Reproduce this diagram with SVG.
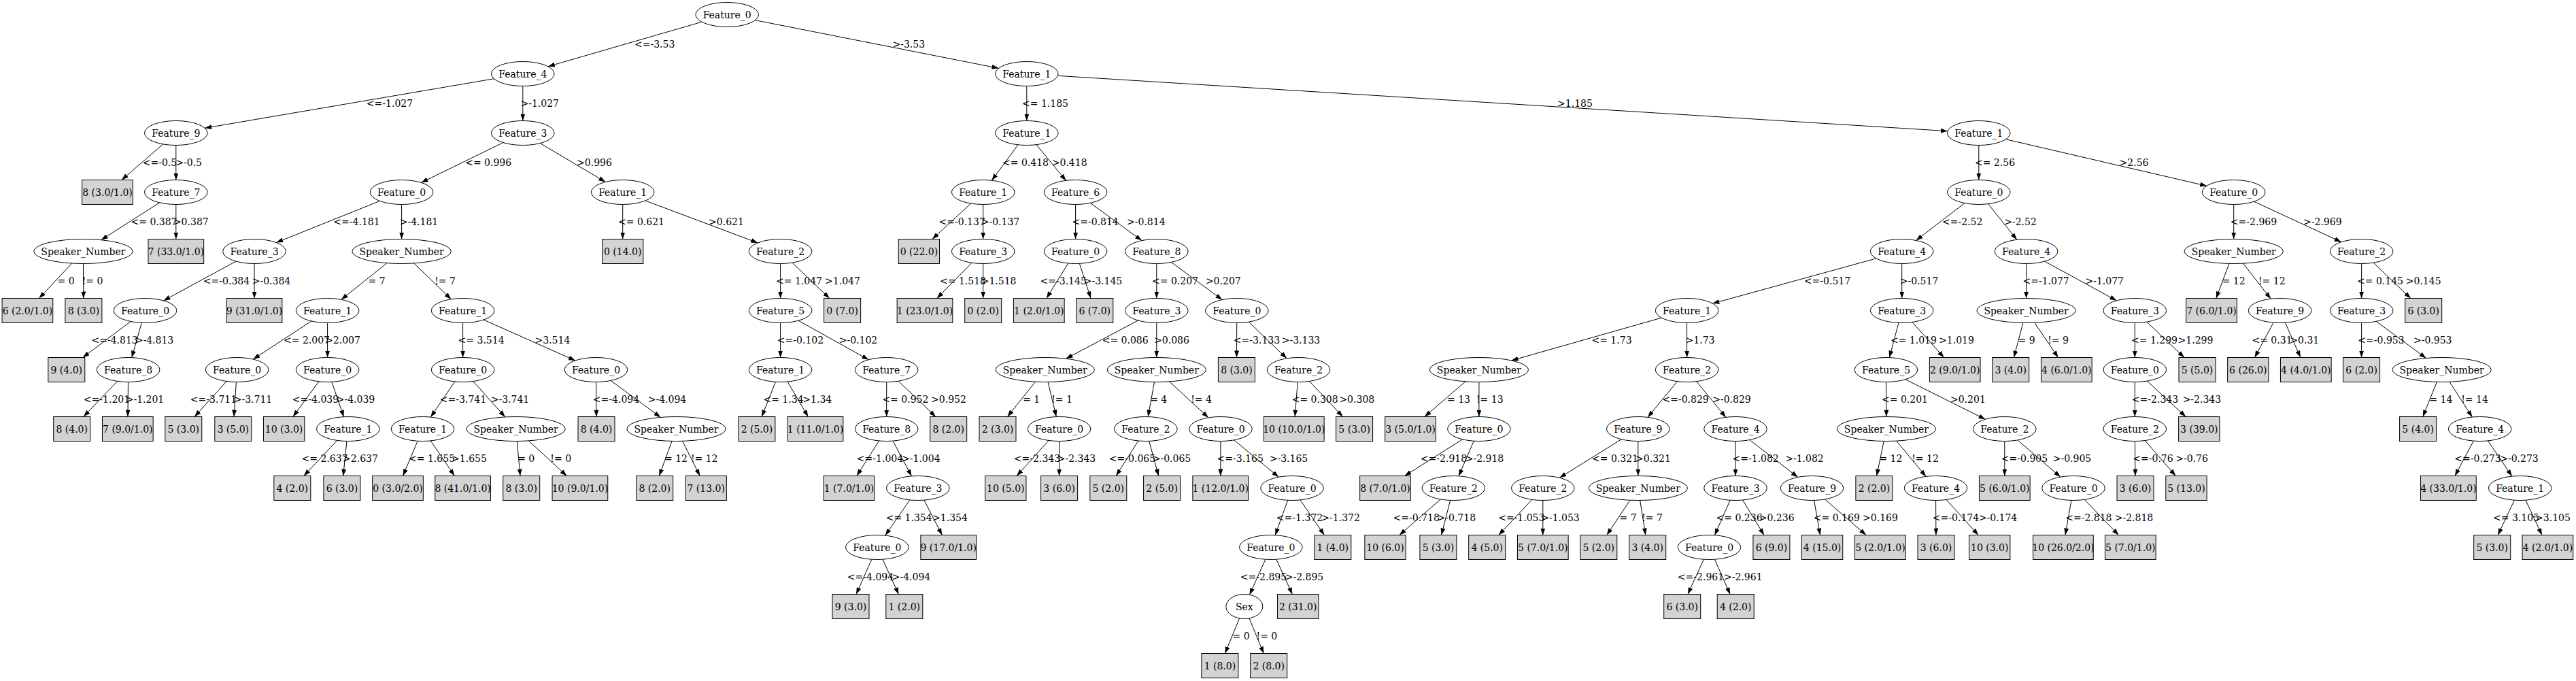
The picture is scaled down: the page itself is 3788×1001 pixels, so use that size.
<svg xmlns="http://www.w3.org/2000/svg" width="3788" height="1001" viewBox="0 0 3788 1001">
<style>
text{font-family:"DejaVu Serif","Liberation Serif",serif;font-size:14px;text-anchor:middle;fill:#000}
#edges line{stroke:#000;stroke-width:1;marker-end:url(#arr)}
.n ellipse{fill:#fff;stroke:#000;stroke-width:1}
.l rect{fill:#d3d3d3;stroke:#000;stroke-width:1}
</style>
<defs>
<marker id="arr" markerUnits="userSpaceOnUse" markerWidth="10" markerHeight="7" refX="10" refY="3.5" orient="auto"><path d="M0,0L10,3.5L0,7z" fill="#000"/></marker>
</defs>
<rect width="3788" height="1001" fill="#fff"/>
<g id="edges">
<line x1="1069.2" y1="21.5" x2="805.9" y2="97.7"/>
<line x1="1069.2" y1="21.5" x2="1468.5" y2="100.3"/>
<line x1="768.8" y1="108.5" x2="301.2" y2="188.3"/>
<line x1="768.8" y1="108.5" x2="768.8" y2="177.5"/>
<line x1="258.8" y1="195.5" x2="178.9" y2="264.5"/>
<line x1="258.8" y1="195.5" x2="258.8" y2="264.5"/>
<line x1="258.8" y1="282.5" x2="148.7" y2="352.7"/>
<line x1="258.8" y1="282.5" x2="258.8" y2="351.5"/>
<line x1="122.4" y1="369.5" x2="57.4" y2="438.5"/>
<line x1="122.4" y1="369.5" x2="122.8" y2="438.5"/>
<line x1="768.8" y1="195.5" x2="619.4" y2="268.4"/>
<line x1="768.8" y1="195.5" x2="890.3" y2="267.4"/>
<line x1="590.6" y1="282.5" x2="406.2" y2="356.6"/>
<line x1="590.6" y1="282.5" x2="590.6" y2="351.5"/>
<line x1="374" y1="369.5" x2="240.5" y2="441.9"/>
<line x1="374" y1="369.5" x2="374" y2="438.5"/>
<line x1="213.5" y1="456.5" x2="121.7" y2="525.5"/>
<line x1="213.5" y1="456.5" x2="193.7" y2="525.6"/>
<line x1="188.6" y1="543.5" x2="122.9" y2="612.5"/>
<line x1="188.6" y1="543.5" x2="188" y2="612.5"/>
<line x1="590.6" y1="369.5" x2="501.9" y2="440.3"/>
<line x1="590.6" y1="369.5" x2="663.3" y2="439.8"/>
<line x1="481.6" y1="456.5" x2="372.3" y2="528"/>
<line x1="481.6" y1="456.5" x2="481.6" y2="525.5"/>
<line x1="348.6" y1="543.5" x2="286.1" y2="612.5"/>
<line x1="348.6" y1="543.5" x2="344" y2="612.5"/>
<line x1="481.6" y1="543.5" x2="430.8" y2="612.5"/>
<line x1="481.6" y1="543.5" x2="505.6" y2="612.7"/>
<line x1="511.8" y1="630.5" x2="446.8" y2="699.5"/>
<line x1="511.8" y1="630.5" x2="504.7" y2="699.5"/>
<line x1="680.6" y1="456.5" x2="680.6" y2="525.5"/>
<line x1="680.6" y1="456.5" x2="846" y2="530"/>
<line x1="680.6" y1="543.5" x2="633.3" y2="613.1"/>
<line x1="680.6" y1="543.5" x2="742.8" y2="612.9"/>
<line x1="621.5" y1="630.5" x2="592.6" y2="699.5"/>
<line x1="621.5" y1="630.5" x2="668.4" y2="699.5"/>
<line x1="758.6" y1="630.5" x2="765" y2="699.5"/>
<line x1="758.6" y1="630.5" x2="833.4" y2="699.5"/>
<line x1="876.5" y1="543.5" x2="876.9" y2="612.5"/>
<line x1="876.5" y1="543.5" x2="971.4" y2="613.4"/>
<line x1="994.5" y1="630.5" x2="969.3" y2="699.5"/>
<line x1="994.5" y1="630.5" x2="1029.2" y2="699.5"/>
<line x1="915.7" y1="282.5" x2="915.7" y2="351.5"/>
<line x1="915.7" y1="282.5" x2="1114.3" y2="357"/>
<line x1="1147.6" y1="369.5" x2="1147.6" y2="438.5"/>
<line x1="1147.6" y1="369.5" x2="1219.8" y2="438.5"/>
<line x1="1147.6" y1="456.5" x2="1147.6" y2="525.5"/>
<line x1="1147.6" y1="456.5" x2="1277.2" y2="528.7"/>
<line x1="1147.6" y1="543.5" x2="1120.1" y2="612.5"/>
<line x1="1147.6" y1="543.5" x2="1188.4" y2="612.5"/>
<line x1="1303.7" y1="543.5" x2="1303.7" y2="612.5"/>
<line x1="1303.7" y1="543.5" x2="1375.9" y2="612.5"/>
<line x1="1303.7" y1="630.5" x2="1259.9" y2="699.5"/>
<line x1="1303.7" y1="630.5" x2="1340.5" y2="699.9"/>
<line x1="1349.8" y1="717.5" x2="1301.8" y2="787.1"/>
<line x1="1349.8" y1="717.5" x2="1385.4" y2="786.5"/>
<line x1="1289.8" y1="804.5" x2="1259" y2="873.5"/>
<line x1="1289.8" y1="804.5" x2="1321.5" y2="873.5"/>
<line x1="1509.8" y1="108.5" x2="1509.8" y2="177.5"/>
<line x1="1509.8" y1="108.5" x2="2864.1" y2="192.7"/>
<line x1="1509.8" y1="195.5" x2="1458.4" y2="265.2"/>
<line x1="1509.8" y1="195.5" x2="1567.5" y2="265.4"/>
<line x1="1445.7" y1="282.5" x2="1370.9" y2="351.5"/>
<line x1="1445.7" y1="282.5" x2="1445.7" y2="351.5"/>
<line x1="1445.7" y1="369.5" x2="1377.7" y2="438.5"/>
<line x1="1445.7" y1="369.5" x2="1445.7" y2="438.5"/>
<line x1="1581.6" y1="282.5" x2="1581.6" y2="351.5"/>
<line x1="1581.6" y1="282.5" x2="1679" y2="353.6"/>
<line x1="1581.6" y1="369.5" x2="1538.9" y2="438.5"/>
<line x1="1581.6" y1="369.5" x2="1604" y2="438.5"/>
<line x1="1700.8" y1="369.5" x2="1700.8" y2="438.5"/>
<line x1="1700.8" y1="369.5" x2="1797.2" y2="440.6"/>
<line x1="1700.8" y1="456.5" x2="1567.5" y2="527.2"/>
<line x1="1700.8" y1="456.5" x2="1700.8" y2="525.5"/>
<line x1="1536.7" y1="543.5" x2="1481.4" y2="612.5"/>
<line x1="1536.7" y1="543.5" x2="1553.3" y2="612.6"/>
<line x1="1557.6" y1="630.5" x2="1495.1" y2="699.5"/>
<line x1="1557.6" y1="630.5" x2="1557.6" y2="699.5"/>
<line x1="1700.8" y1="543.5" x2="1688.2" y2="612.5"/>
<line x1="1700.8" y1="543.5" x2="1777" y2="613.9"/>
<line x1="1684.9" y1="630.5" x2="1641.2" y2="699.5"/>
<line x1="1684.9" y1="630.5" x2="1703.7" y2="699.5"/>
<line x1="1795" y1="630.5" x2="1794.8" y2="699.5"/>
<line x1="1795" y1="630.5" x2="1880.3" y2="701.2"/>
<line x1="1900" y1="717.5" x2="1875.2" y2="786.7"/>
<line x1="1900" y1="717.5" x2="1947.4" y2="786.5"/>
<line x1="1868.8" y1="804.5" x2="1837.5" y2="874.3"/>
<line x1="1868.8" y1="804.5" x2="1900.4" y2="873.5"/>
<line x1="1829.8" y1="891.5" x2="1801.3" y2="960.5"/>
<line x1="1829.8" y1="891.5" x2="1858.3" y2="960.5"/>
<line x1="1818.8" y1="456.5" x2="1818.5" y2="525.5"/>
<line x1="1818.8" y1="456.5" x2="1892.2" y2="526.8"/>
<line x1="1909.6" y1="543.5" x2="1904.2" y2="612.5"/>
<line x1="1909.6" y1="543.5" x2="1974.6" y2="612.5"/>
<line x1="2909.8" y1="195.5" x2="2909.8" y2="264.5"/>
<line x1="2909.8" y1="195.5" x2="3245" y2="273.3"/>
<line x1="2909.8" y1="282.5" x2="2817.6" y2="353.4"/>
<line x1="2909.8" y1="282.5" x2="2965.8" y2="352.3"/>
<line x1="2796.7" y1="369.5" x2="2518.4" y2="446.1"/>
<line x1="2796.7" y1="369.5" x2="2796.7" y2="438.5"/>
<line x1="2480.6" y1="456.5" x2="2222.6" y2="529.9"/>
<line x1="2480.6" y1="456.5" x2="2480.6" y2="525.5"/>
<line x1="2174.9" y1="543.5" x2="2094.9" y2="612.5"/>
<line x1="2174.9" y1="543.5" x2="2174.9" y2="612.5"/>
<line x1="2174.9" y1="630.5" x2="2065.5" y2="699.5"/>
<line x1="2174.9" y1="630.5" x2="2145" y2="699.8"/>
<line x1="2137.3" y1="717.5" x2="2057.8" y2="786.5"/>
<line x1="2137.3" y1="717.5" x2="2119.5" y2="786.5"/>
<line x1="2480.6" y1="543.5" x2="2422.9" y2="613.4"/>
<line x1="2480.6" y1="543.5" x2="2537.9" y2="613.4"/>
<line x1="2408.8" y1="630.5" x2="2293.4" y2="702.2"/>
<line x1="2408.8" y1="630.5" x2="2408.8" y2="699.5"/>
<line x1="2268.8" y1="717.5" x2="2203.7" y2="786.5"/>
<line x1="2268.8" y1="717.5" x2="2268.8" y2="786.5"/>
<line x1="2408.8" y1="717.5" x2="2362.8" y2="786.5"/>
<line x1="2408.8" y1="717.5" x2="2419.8" y2="786.5"/>
<line x1="2552" y1="630.5" x2="2552" y2="699.5"/>
<line x1="2552" y1="630.5" x2="2643.7" y2="701.4"/>
<line x1="2552" y1="717.5" x2="2521.4" y2="786.8"/>
<line x1="2552" y1="717.5" x2="2594" y2="786.5"/>
<line x1="2513.5" y1="804.5" x2="2481.9" y2="873.5"/>
<line x1="2513.5" y1="804.5" x2="2544.2" y2="873.5"/>
<line x1="2664.5" y1="717.5" x2="2676.5" y2="786.5"/>
<line x1="2664.5" y1="717.5" x2="2744.1" y2="786.5"/>
<line x1="2796.7" y1="456.5" x2="2778.3" y2="525.6"/>
<line x1="2796.7" y1="456.5" x2="2858.6" y2="525.5"/>
<line x1="2773.5" y1="543.5" x2="2773.9" y2="612.5"/>
<line x1="2773.5" y1="543.5" x2="2919.3" y2="616.3"/>
<line x1="2773.9" y1="630.5" x2="2759.6" y2="699.5"/>
<line x1="2773.9" y1="630.5" x2="2832.2" y2="700.4"/>
<line x1="2846.5" y1="717.5" x2="2846.9" y2="786.5"/>
<line x1="2846.5" y1="717.5" x2="2909.3" y2="786.5"/>
<line x1="2947.8" y1="630.5" x2="2947.8" y2="699.5"/>
<line x1="2947.8" y1="630.5" x2="3029.9" y2="701.1"/>
<line x1="3049" y1="717.5" x2="3037" y2="786.5"/>
<line x1="3049" y1="717.5" x2="3115.5" y2="786.5"/>
<line x1="2979.6" y1="369.5" x2="2979.6" y2="438.5"/>
<line x1="2979.6" y1="369.5" x2="3112.4" y2="441.8"/>
<line x1="2979.6" y1="456.5" x2="2961.4" y2="525.5"/>
<line x1="2979.6" y1="456.5" x2="3026.6" y2="525.5"/>
<line x1="3139.3" y1="456.5" x2="3139.3" y2="525.5"/>
<line x1="3139.3" y1="456.5" x2="3212" y2="525.5"/>
<line x1="3139.3" y1="543.5" x2="3139.3" y2="612.5"/>
<line x1="3139.3" y1="543.5" x2="3214.2" y2="612.5"/>
<line x1="3139.3" y1="630.5" x2="3139.9" y2="699.5"/>
<line x1="3139.3" y1="630.5" x2="3199.3" y2="699.5"/>
<line x1="3284.7" y1="282.5" x2="3284.7" y2="351.5"/>
<line x1="3284.7" y1="282.5" x2="3442.8" y2="355.7"/>
<line x1="3284.7" y1="369.5" x2="3258.8" y2="438.5"/>
<line x1="3284.7" y1="369.5" x2="3339.2" y2="439.3"/>
<line x1="3352.6" y1="456.5" x2="3315.5" y2="525.5"/>
<line x1="3352.6" y1="456.5" x2="3382.9" y2="525.5"/>
<line x1="3472.6" y1="369.5" x2="3472.6" y2="438.5"/>
<line x1="3472.6" y1="369.5" x2="3544.9" y2="438.5"/>
<line x1="3472.6" y1="456.5" x2="3472.6" y2="525.5"/>
<line x1="3472.6" y1="456.5" x2="3567.5" y2="526.4"/>
<line x1="3590.6" y1="543.5" x2="3562.8" y2="612.5"/>
<line x1="3590.6" y1="543.5" x2="3635.4" y2="613"/>
<line x1="3646.7" y1="630.5" x2="3610" y2="699.5"/>
<line x1="3646.7" y1="630.5" x2="3693.9" y2="700.1"/>
<line x1="3705.7" y1="717.5" x2="3673.2" y2="786.5"/>
<line x1="3705.7" y1="717.5" x2="3738" y2="786.5"/>
</g>
<g id="edge-labels">
<text x="962.7" y="70">&lt;=-3.53</text><text x="1336.3" y="70">&gt;-3.53</text>
<text x="573" y="157">&lt;=-1.027</text><text x="793.7" y="157">&gt;-1.027</text><text x="1537" y="157">&lt;= 1.185</text><text x="2316" y="157">&gt;1.185</text>
<text x="235" y="244">&lt;=-0.5</text><text x="277.6" y="244">&gt;-0.5</text><text x="718.2" y="244">&lt;= 0.996</text><text x="874" y="244">&gt;0.996</text><text x="1508" y="244">&lt;= 0.418</text><text x="1572.7" y="244">&gt;0.418</text><text x="2933.5" y="244">&lt;= 2.56</text><text x="3138" y="244">&gt;2.56</text>
<text x="226.5" y="331">&lt;= 0.387</text><text x="280.8" y="331">&gt;0.387</text><text x="524.5" y="331">&lt;=-4.181</text><text x="616" y="331">&gt;-4.181</text><text x="943" y="331">&lt;= 0.621</text><text x="1068" y="331">&gt;0.621</text><text x="1414.7" y="331">&lt;=-0.137</text><text x="1471" y="331">&gt;-0.137</text><text x="1610.6" y="331">&lt;=-0.814</text><text x="1685.3" y="331">&gt;-0.814</text><text x="2885.7" y="331">&lt;=-2.52</text><text x="2971" y="331">&gt;-2.52</text><text x="3314" y="331">&lt;=-2.969</text><text x="3415.3" y="331">&gt;-2.969</text>
<text x="97" y="418">= 0</text><text x="136" y="418">!= 0</text><text x="333" y="418">&lt;=-0.384</text><text x="399" y="418">&gt;-0.384</text><text x="554" y="418">= 7</text><text x="654.5" y="418">!= 7</text><text x="1175" y="418">&lt;= 1.047</text><text x="1239" y="418">&gt;1.047</text><text x="1416" y="418">&lt;= 1.518</text><text x="1468.6" y="418">&gt;1.518</text><text x="1563.7" y="418">&lt;=-3.145</text><text x="1622" y="418">&gt;-3.145</text><text x="1728" y="418">&lt;= 0.207</text><text x="1798.8" y="418">&gt;0.207</text><text x="2687" y="418">&lt;=-0.517</text><text x="2822" y="418">&gt;-0.517</text><text x="3008.6" y="418">&lt;=-1.077</text><text x="3094.7" y="418">&gt;-1.077</text><text x="3284.7" y="418">= 12</text><text x="3340.8" y="418">!= 12</text><text x="3500" y="418">&lt;= 0.145</text><text x="3563.7" y="418">&gt;0.145</text>
<text x="168.6" y="505">&lt;=-4.813</text><text x="227" y="505">&gt;-4.813</text><text x="451" y="505">&lt;= 2.007</text><text x="504" y="505">&gt;2.007</text><text x="707.6" y="505">&lt;= 3.514</text><text x="812.4" y="505">&gt;3.514</text><text x="1177" y="505">&lt;=-0.102</text><text x="1262" y="505">&gt;-0.102</text><text x="1654.7" y="505">&lt;= 0.086</text><text x="1723" y="505">&gt;0.086</text><text x="1848" y="505">&lt;=-3.133</text><text x="1913" y="505">&gt;-3.133</text><text x="2370" y="505">&lt;= 1.73</text><text x="2500" y="505">&gt;1.73</text><text x="2813.9" y="505">&lt;= 1.019</text><text x="2877" y="505">&gt;1.019</text><text x="2980" y="505">= 9</text><text x="3026.5" y="505">!= 9</text><text x="3168" y="505">&lt;= 1.299</text><text x="3228.5" y="505">&gt;1.299</text><text x="3341" y="505">&lt;= 0.31</text><text x="3388.8" y="505">&gt;0.31</text><text x="3501.5" y="505">&lt;=-0.953</text><text x="3577.2" y="505">&gt;-0.953</text>
<text x="157" y="592">&lt;=-1.201</text><text x="213" y="592">&gt;-1.201</text><text x="314" y="592">&lt;=-3.711</text><text x="372" y="592">&gt;-3.711</text><text x="464" y="592">&lt;=-4.039</text><text x="523" y="592">&gt;-4.039</text><text x="681" y="592">&lt;=-3.741</text><text x="750" y="592">&gt;-3.741</text><text x="906" y="592">&lt;=-4.094</text><text x="981" y="592">&gt;-4.094</text><text x="1152" y="592">&lt;= 1.34</text><text x="1201.8" y="592">&gt;1.34</text><text x="1331.4" y="592">&lt;= 0.952</text><text x="1395" y="592">&gt;0.952</text><text x="1516.7" y="592">= 1</text><text x="1561.6" y="592">!= 1</text><text x="1703.7" y="592">= 4</text><text x="1766.5" y="592">!= 4</text><text x="1933.7" y="592">&lt;= 0.308</text><text x="1995.3" y="592">&gt;0.308</text><text x="2145" y="592">= 13</text><text x="2190.8" y="592">!= 13</text><text x="2478.6" y="592">&lt;=-0.829</text><text x="2546.5" y="592">&gt;-0.829</text><text x="2801" y="592">&lt;= 0.201</text><text x="2893.9" y="592">&gt;0.201</text><text x="3169" y="592">&lt;=-2.343</text><text x="3237.9" y="592">&gt;-2.343</text><text x="3589.4" y="592">= 14</text><text x="3639" y="592">!= 14</text>
<text x="477.6" y="679">&lt;= 2.637</text><text x="530" y="679">&gt;2.637</text><text x="635" y="679">&lt;= 1.655</text><text x="690" y="679">&gt;1.655</text><text x="773.7" y="679">= 0</text><text x="824.7" y="679">!= 0</text><text x="994" y="679">= 12</text><text x="1035.7" y="679">!= 12</text><text x="1294" y="679">&lt;=-1.004</text><text x="1354.3" y="679">&gt;-1.004</text><text x="1525" y="679">&lt;=-2.343</text><text x="1583" y="679">&gt;-2.343</text><text x="1665" y="679">&lt;=-0.065</text><text x="1723" y="679">&gt;-0.065</text><text x="1823.7" y="679">&lt;=-3.165</text><text x="1895" y="679">&gt;-3.165</text><text x="2123" y="679">&lt;=-2.918</text><text x="2183" y="679">&gt;-2.918</text><text x="2375" y="679">&lt;= 0.321</text><text x="2431" y="679">&gt;0.321</text><text x="2581.6" y="679">&lt;=-1.082</text><text x="2653.5" y="679">&gt;-1.082</text><text x="2780.4" y="679">= 12</text><text x="2831" y="679">!= 12</text><text x="2977" y="679">&lt;=-0.905</text><text x="3047" y="679">&gt;-0.905</text><text x="3166" y="679">&lt;=-0.76</text><text x="3223" y="679">&gt;-0.76</text><text x="3643.5" y="679">&lt;=-0.273</text><text x="3704.5" y="679">&gt;-0.273</text>
<text x="1336.7" y="766">&lt;= 1.354</text><text x="1397" y="766">&gt;1.354</text><text x="1911" y="766">&lt;=-1.372</text><text x="1971.6" y="766">&gt;-1.372</text><text x="2082.7" y="766">&lt;=-0.718</text><text x="2141.8" y="766">&gt;-0.718</text><text x="2237.3" y="766">&lt;=-1.053</text><text x="2294.5" y="766">&gt;-1.053</text><text x="2394" y="766">= 7</text><text x="2429.6" y="766">!= 7</text><text x="2557.6" y="766">&lt;= 0.236</text><text x="2612.7" y="766">&gt;0.236</text><text x="2700.8" y="766">&lt;= 0.169</text><text x="2765" y="766">&gt;0.169</text><text x="2876" y="766">&lt;=-0.174</text><text x="2938" y="766">&gt;-0.174</text><text x="3071.4" y="766">&lt;=-2.818</text><text x="3138" y="766">&gt;-2.818</text><text x="3700" y="766">&lt;= 3.105</text><text x="3754" y="766">&gt;3.105</text>
<text x="1280" y="853">&lt;=-4.094</text><text x="1340" y="853">&gt;-4.094</text><text x="1858" y="853">&lt;=-2.895</text><text x="1918" y="853">&gt;-2.895</text><text x="2501" y="853">&lt;=-2.961</text><text x="2563.3" y="853">&gt;-2.961</text>
<text x="1825" y="940">= 0</text><text x="1862.9" y="940">!= 0</text>
</g>
<g id="nodes">
<g id="n0" class="n"><ellipse cx="1069.2" cy="21.5" rx="46.3" ry="18"/><text x="1069.2" y="26.5">Feature_0</text></g>
<g id="n1" class="n"><ellipse cx="768.8" cy="108.5" rx="46.3" ry="18"/><text x="768.8" y="113.5">Feature_4</text></g>
<g id="n2" class="n"><ellipse cx="258.8" cy="195.5" rx="46.3" ry="18"/><text x="258.8" y="200.5">Feature_9</text></g>
<g id="n3" class="n"><ellipse cx="258.8" cy="282.5" rx="46.3" ry="18"/><text x="258.8" y="287.5">Feature_7</text></g>
<g id="n4" class="n"><ellipse cx="122.4" cy="369.5" rx="72.7" ry="18"/><text x="122.4" y="374.5">Speaker_Number</text></g>
<g id="n5" class="n"><ellipse cx="768.8" cy="195.5" rx="46.3" ry="18"/><text x="768.8" y="200.5">Feature_3</text></g>
<g id="n6" class="n"><ellipse cx="590.6" cy="282.5" rx="46.3" ry="18"/><text x="590.6" y="287.5">Feature_0</text></g>
<g id="n7" class="n"><ellipse cx="374" cy="369.5" rx="46.3" ry="18"/><text x="374" y="374.5">Feature_3</text></g>
<g id="n8" class="n"><ellipse cx="213.5" cy="456.5" rx="46.3" ry="18"/><text x="213.5" y="461.5">Feature_0</text></g>
<g id="n9" class="n"><ellipse cx="188.6" cy="543.5" rx="46.3" ry="18"/><text x="188.6" y="548.5">Feature_8</text></g>
<g id="n10" class="n"><ellipse cx="590.6" cy="369.5" rx="72.7" ry="18"/><text x="590.6" y="374.5">Speaker_Number</text></g>
<g id="n11" class="n"><ellipse cx="481.6" cy="456.5" rx="46.3" ry="18"/><text x="481.6" y="461.5">Feature_1</text></g>
<g id="n12" class="n"><ellipse cx="348.6" cy="543.5" rx="46.3" ry="18"/><text x="348.6" y="548.5">Feature_0</text></g>
<g id="n13" class="n"><ellipse cx="481.6" cy="543.5" rx="46.3" ry="18"/><text x="481.6" y="548.5">Feature_0</text></g>
<g id="n14" class="n"><ellipse cx="511.8" cy="630.5" rx="46.3" ry="18"/><text x="511.8" y="635.5">Feature_1</text></g>
<g id="n15" class="n"><ellipse cx="680.6" cy="456.5" rx="46.3" ry="18"/><text x="680.6" y="461.5">Feature_1</text></g>
<g id="n16" class="n"><ellipse cx="680.6" cy="543.5" rx="46.3" ry="18"/><text x="680.6" y="548.5">Feature_0</text></g>
<g id="n17" class="n"><ellipse cx="621.5" cy="630.5" rx="46.3" ry="18"/><text x="621.5" y="635.5">Feature_1</text></g>
<g id="n18" class="n"><ellipse cx="758.6" cy="630.5" rx="72.7" ry="18"/><text x="758.6" y="635.5">Speaker_Number</text></g>
<g id="n19" class="n"><ellipse cx="876.5" cy="543.5" rx="46.3" ry="18"/><text x="876.5" y="548.5">Feature_0</text></g>
<g id="n20" class="n"><ellipse cx="994.5" cy="630.5" rx="72.7" ry="18"/><text x="994.5" y="635.5">Speaker_Number</text></g>
<g id="n21" class="n"><ellipse cx="915.7" cy="282.5" rx="46.3" ry="18"/><text x="915.7" y="287.5">Feature_1</text></g>
<g id="n22" class="n"><ellipse cx="1147.6" cy="369.5" rx="46.3" ry="18"/><text x="1147.6" y="374.5">Feature_2</text></g>
<g id="n23" class="n"><ellipse cx="1147.6" cy="456.5" rx="46.3" ry="18"/><text x="1147.6" y="461.5">Feature_5</text></g>
<g id="n24" class="n"><ellipse cx="1147.6" cy="543.5" rx="46.3" ry="18"/><text x="1147.6" y="548.5">Feature_1</text></g>
<g id="n25" class="n"><ellipse cx="1303.7" cy="543.5" rx="46.3" ry="18"/><text x="1303.7" y="548.5">Feature_7</text></g>
<g id="n26" class="n"><ellipse cx="1303.7" cy="630.5" rx="46.3" ry="18"/><text x="1303.7" y="635.5">Feature_8</text></g>
<g id="n27" class="n"><ellipse cx="1349.8" cy="717.5" rx="46.3" ry="18"/><text x="1349.8" y="722.5">Feature_3</text></g>
<g id="n28" class="n"><ellipse cx="1289.8" cy="804.5" rx="46.3" ry="18"/><text x="1289.8" y="809.5">Feature_0</text></g>
<g id="n29" class="n"><ellipse cx="1509.8" cy="108.5" rx="46.3" ry="18"/><text x="1509.8" y="113.5">Feature_1</text></g>
<g id="n30" class="n"><ellipse cx="1509.8" cy="195.5" rx="46.3" ry="18"/><text x="1509.8" y="200.5">Feature_1</text></g>
<g id="n31" class="n"><ellipse cx="1445.7" cy="282.5" rx="46.3" ry="18"/><text x="1445.7" y="287.5">Feature_1</text></g>
<g id="n32" class="n"><ellipse cx="1445.7" cy="369.5" rx="46.3" ry="18"/><text x="1445.7" y="374.5">Feature_3</text></g>
<g id="n33" class="n"><ellipse cx="1581.6" cy="282.5" rx="46.3" ry="18"/><text x="1581.6" y="287.5">Feature_6</text></g>
<g id="n34" class="n"><ellipse cx="1581.6" cy="369.5" rx="46.3" ry="18"/><text x="1581.6" y="374.5">Feature_0</text></g>
<g id="n35" class="n"><ellipse cx="1700.8" cy="369.5" rx="46.3" ry="18"/><text x="1700.8" y="374.5">Feature_8</text></g>
<g id="n36" class="n"><ellipse cx="1700.8" cy="456.5" rx="46.3" ry="18"/><text x="1700.8" y="461.5">Feature_3</text></g>
<g id="n37" class="n"><ellipse cx="1536.7" cy="543.5" rx="72.7" ry="18"/><text x="1536.7" y="548.5">Speaker_Number</text></g>
<g id="n38" class="n"><ellipse cx="1557.6" cy="630.5" rx="46.3" ry="18"/><text x="1557.6" y="635.5">Feature_0</text></g>
<g id="n39" class="n"><ellipse cx="1700.8" cy="543.5" rx="72.7" ry="18"/><text x="1700.8" y="548.5">Speaker_Number</text></g>
<g id="n40" class="n"><ellipse cx="1684.9" cy="630.5" rx="46.3" ry="18"/><text x="1684.9" y="635.5">Feature_2</text></g>
<g id="n41" class="n"><ellipse cx="1795" cy="630.5" rx="46.3" ry="18"/><text x="1795" y="635.5">Feature_0</text></g>
<g id="n42" class="n"><ellipse cx="1900" cy="717.5" rx="46.3" ry="18"/><text x="1900" y="722.5">Feature_0</text></g>
<g id="n43" class="n"><ellipse cx="1868.8" cy="804.5" rx="46.3" ry="18"/><text x="1868.8" y="809.5">Feature_0</text></g>
<g id="n44" class="n"><ellipse cx="1829.8" cy="891.5" rx="27" ry="18"/><text x="1829.8" y="896.5">Sex</text></g>
<g id="n45" class="n"><ellipse cx="1818.8" cy="456.5" rx="46.3" ry="18"/><text x="1818.8" y="461.5">Feature_0</text></g>
<g id="n46" class="n"><ellipse cx="1909.6" cy="543.5" rx="46.3" ry="18"/><text x="1909.6" y="548.5">Feature_2</text></g>
<g id="n47" class="n"><ellipse cx="2909.8" cy="195.5" rx="46.3" ry="18"/><text x="2909.8" y="200.5">Feature_1</text></g>
<g id="n48" class="n"><ellipse cx="2909.8" cy="282.5" rx="46.3" ry="18"/><text x="2909.8" y="287.5">Feature_0</text></g>
<g id="n49" class="n"><ellipse cx="2796.7" cy="369.5" rx="46.3" ry="18"/><text x="2796.7" y="374.5">Feature_4</text></g>
<g id="n50" class="n"><ellipse cx="2480.6" cy="456.5" rx="46.3" ry="18"/><text x="2480.6" y="461.5">Feature_1</text></g>
<g id="n51" class="n"><ellipse cx="2174.9" cy="543.5" rx="72.7" ry="18"/><text x="2174.9" y="548.5">Speaker_Number</text></g>
<g id="n52" class="n"><ellipse cx="2174.9" cy="630.5" rx="46.3" ry="18"/><text x="2174.9" y="635.5">Feature_0</text></g>
<g id="n53" class="n"><ellipse cx="2137.3" cy="717.5" rx="46.3" ry="18"/><text x="2137.3" y="722.5">Feature_2</text></g>
<g id="n54" class="n"><ellipse cx="2480.6" cy="543.5" rx="46.3" ry="18"/><text x="2480.6" y="548.5">Feature_2</text></g>
<g id="n55" class="n"><ellipse cx="2408.8" cy="630.5" rx="46.3" ry="18"/><text x="2408.8" y="635.5">Feature_9</text></g>
<g id="n56" class="n"><ellipse cx="2268.8" cy="717.5" rx="46.3" ry="18"/><text x="2268.8" y="722.5">Feature_2</text></g>
<g id="n57" class="n"><ellipse cx="2408.8" cy="717.5" rx="72.7" ry="18"/><text x="2408.8" y="722.5">Speaker_Number</text></g>
<g id="n58" class="n"><ellipse cx="2552" cy="630.5" rx="46.3" ry="18"/><text x="2552" y="635.5">Feature_4</text></g>
<g id="n59" class="n"><ellipse cx="2552" cy="717.5" rx="46.3" ry="18"/><text x="2552" y="722.5">Feature_3</text></g>
<g id="n60" class="n"><ellipse cx="2513.5" cy="804.5" rx="46.3" ry="18"/><text x="2513.5" y="809.5">Feature_0</text></g>
<g id="n61" class="n"><ellipse cx="2664.5" cy="717.5" rx="46.3" ry="18"/><text x="2664.5" y="722.5">Feature_9</text></g>
<g id="n62" class="n"><ellipse cx="2796.7" cy="456.5" rx="46.3" ry="18"/><text x="2796.7" y="461.5">Feature_3</text></g>
<g id="n63" class="n"><ellipse cx="2773.5" cy="543.5" rx="46.3" ry="18"/><text x="2773.5" y="548.5">Feature_5</text></g>
<g id="n64" class="n"><ellipse cx="2773.9" cy="630.5" rx="72.7" ry="18"/><text x="2773.9" y="635.5">Speaker_Number</text></g>
<g id="n65" class="n"><ellipse cx="2846.5" cy="717.5" rx="46.3" ry="18"/><text x="2846.5" y="722.5">Feature_4</text></g>
<g id="n66" class="n"><ellipse cx="2947.8" cy="630.5" rx="46.3" ry="18"/><text x="2947.8" y="635.5">Feature_2</text></g>
<g id="n67" class="n"><ellipse cx="3049" cy="717.5" rx="46.3" ry="18"/><text x="3049" y="722.5">Feature_0</text></g>
<g id="n68" class="n"><ellipse cx="2979.6" cy="369.5" rx="46.3" ry="18"/><text x="2979.6" y="374.5">Feature_4</text></g>
<g id="n69" class="n"><ellipse cx="2979.6" cy="456.5" rx="72.7" ry="18"/><text x="2979.6" y="461.5">Speaker_Number</text></g>
<g id="n70" class="n"><ellipse cx="3139.3" cy="456.5" rx="46.3" ry="18"/><text x="3139.3" y="461.5">Feature_3</text></g>
<g id="n71" class="n"><ellipse cx="3139.3" cy="543.5" rx="46.3" ry="18"/><text x="3139.3" y="548.5">Feature_0</text></g>
<g id="n72" class="n"><ellipse cx="3139.3" cy="630.5" rx="46.3" ry="18"/><text x="3139.3" y="635.5">Feature_2</text></g>
<g id="n73" class="n"><ellipse cx="3284.7" cy="282.5" rx="46.3" ry="18"/><text x="3284.7" y="287.5">Feature_0</text></g>
<g id="n74" class="n"><ellipse cx="3284.7" cy="369.5" rx="72.7" ry="18"/><text x="3284.7" y="374.5">Speaker_Number</text></g>
<g id="n75" class="n"><ellipse cx="3352.6" cy="456.5" rx="46.3" ry="18"/><text x="3352.6" y="461.5">Feature_9</text></g>
<g id="n76" class="n"><ellipse cx="3472.6" cy="369.5" rx="46.3" ry="18"/><text x="3472.6" y="374.5">Feature_2</text></g>
<g id="n77" class="n"><ellipse cx="3472.6" cy="456.5" rx="46.3" ry="18"/><text x="3472.6" y="461.5">Feature_3</text></g>
<g id="n78" class="n"><ellipse cx="3590.6" cy="543.5" rx="72.7" ry="18"/><text x="3590.6" y="548.5">Speaker_Number</text></g>
<g id="n79" class="n"><ellipse cx="3646.7" cy="630.5" rx="46.3" ry="18"/><text x="3646.7" y="635.5">Feature_4</text></g>
<g id="n80" class="n"><ellipse cx="3705.7" cy="717.5" rx="46.3" ry="18"/><text x="3705.7" y="722.5">Feature_1</text></g>

<g id="l0" class="l"><rect x="120.65" y="264.5" width="74.7" height="36"/><text x="158" y="287.5">8 (3.0/1.0)</text></g>
<g id="l1" class="l"><rect x="217.95" y="351.5" width="81.7" height="36"/><text x="258.8" y="374.5">7 (33.0/1.0)</text></g>
<g id="l2" class="l"><rect x="885.55" y="351.5" width="60.3" height="36"/><text x="915.7" y="374.5">0 (14.0)</text></g>
<g id="l3" class="l"><rect x="1321.25" y="351.5" width="60.3" height="36"/><text x="1351.4" y="374.5">0 (22.0)</text></g>
<g id="l4" class="l"><rect x="3.05" y="438.5" width="74.7" height="36"/><text x="40.4" y="461.5">6 (2.0/1.0)</text></g>
<g id="l5" class="l"><rect x="95.9" y="438.5" width="54" height="36"/><text x="122.9" y="461.5">8 (3.0)</text></g>
<g id="l6" class="l"><rect x="333.15" y="438.5" width="81.7" height="36"/><text x="374" y="461.5">9 (31.0/1.0)</text></g>
<g id="l7" class="l"><rect x="1211.6" y="438.5" width="54" height="36"/><text x="1238.6" y="461.5">0 (7.0)</text></g>
<g id="l8" class="l"><rect x="1319.15" y="438.5" width="81.7" height="36"/><text x="1360" y="461.5">1 (23.0/1.0)</text></g>
<g id="l9" class="l"><rect x="1418.7" y="438.5" width="54" height="36"/><text x="1445.7" y="461.5">0 (2.0)</text></g>
<g id="l10" class="l"><rect x="1490.45" y="438.5" width="74.7" height="36"/><text x="1527.8" y="461.5">1 (2.0/1.0)</text></g>
<g id="l11" class="l"><rect x="1582.8" y="438.5" width="54" height="36"/><text x="1609.8" y="461.5">6 (7.0)</text></g>
<g id="l12" class="l"><rect x="3214.65" y="438.5" width="74.7" height="36"/><text x="3252" y="461.5">7 (6.0/1.0)</text></g>
<g id="l13" class="l"><rect x="3536.7" y="438.5" width="54" height="36"/><text x="3563.7" y="461.5">6 (3.0)</text></g>
<g id="l14" class="l"><rect x="70.8" y="525.5" width="54" height="36"/><text x="97.8" y="548.5">9 (4.0)</text></g>
<g id="l15" class="l"><rect x="1791.4" y="525.5" width="54" height="36"/><text x="1818.4" y="548.5">8 (3.0)</text></g>
<g id="l16" class="l"><rect x="2837.35" y="525.5" width="74.7" height="36"/><text x="2874.7" y="548.5">2 (9.0/1.0)</text></g>
<g id="l17" class="l"><rect x="2929.7" y="525.5" width="54" height="36"/><text x="2956.7" y="548.5">3 (4.0)</text></g>
<g id="l18" class="l"><rect x="3001.45" y="525.5" width="74.7" height="36"/><text x="3038.8" y="548.5">4 (6.0/1.0)</text></g>
<g id="l19" class="l"><rect x="3204" y="525.5" width="54" height="36"/><text x="3231" y="548.5">5 (5.0)</text></g>
<g id="l20" class="l"><rect x="3275.65" y="525.5" width="60.3" height="36"/><text x="3305.8" y="548.5">6 (26.0)</text></g>
<g id="l21" class="l"><rect x="3353.45" y="525.5" width="74.7" height="36"/><text x="3390.8" y="548.5">4 (4.0/1.0)</text></g>
<g id="l22" class="l"><rect x="3445.6" y="525.5" width="54" height="36"/><text x="3472.6" y="548.5">6 (2.0)</text></g>
<g id="l23" class="l"><rect x="78.7" y="612.5" width="54" height="36"/><text x="105.7" y="635.5">8 (4.0)</text></g>
<g id="l24" class="l"><rect x="150.45" y="612.5" width="74.7" height="36"/><text x="187.8" y="635.5">7 (9.0/1.0)</text></g>
<g id="l25" class="l"><rect x="242.8" y="612.5" width="54" height="36"/><text x="269.8" y="635.5">5 (3.0)</text></g>
<g id="l26" class="l"><rect x="315.8" y="612.5" width="54" height="36"/><text x="342.8" y="635.5">3 (5.0)</text></g>
<g id="l27" class="l"><rect x="387.45" y="612.5" width="60.3" height="36"/><text x="417.6" y="635.5">10 (3.0)</text></g>
<g id="l28" class="l"><rect x="850" y="612.5" width="54" height="36"/><text x="877" y="635.5">8 (4.0)</text></g>
<g id="l29" class="l"><rect x="1085.9" y="612.5" width="54" height="36"/><text x="1112.9" y="635.5">2 (5.0)</text></g>
<g id="l30" class="l"><rect x="1158.15" y="612.5" width="81.7" height="36"/><text x="1199" y="635.5">1 (11.0/1.0)</text></g>
<g id="l31" class="l"><rect x="1367.7" y="612.5" width="54" height="36"/><text x="1394.7" y="635.5">8 (2.0)</text></g>
<g id="l32" class="l"><rect x="1440" y="612.5" width="54" height="36"/><text x="1467" y="635.5">2 (3.0)</text></g>
<g id="l33" class="l"><rect x="1858.45" y="612.5" width="88.7" height="36"/><text x="1902.8" y="635.5">10 (10.0/1.0)</text></g>
<g id="l34" class="l"><rect x="1964.6" y="612.5" width="54" height="36"/><text x="1991.6" y="635.5">5 (3.0)</text></g>
<g id="l35" class="l"><rect x="2036.65" y="612.5" width="74.7" height="36"/><text x="2074" y="635.5">3 (5.0/1.0)</text></g>
<g id="l36" class="l"><rect x="3203.65" y="612.5" width="60.3" height="36"/><text x="3233.8" y="635.5">3 (39.0)</text></g>
<g id="l37" class="l"><rect x="3528.6" y="612.5" width="54" height="36"/><text x="3555.6" y="635.5">5 (4.0)</text></g>
<g id="l38" class="l"><rect x="402.8" y="699.5" width="54" height="36"/><text x="429.8" y="722.5">4 (2.0)</text></g>
<g id="l39" class="l"><rect x="475.9" y="699.5" width="54" height="36"/><text x="502.9" y="722.5">6 (3.0)</text></g>
<g id="l40" class="l"><rect x="547.65" y="699.5" width="74.7" height="36"/><text x="585" y="722.5">0 (3.0/2.0)</text></g>
<g id="l41" class="l"><rect x="639.75" y="699.5" width="81.7" height="36"/><text x="680.6" y="722.5">8 (41.0/1.0)</text></g>
<g id="l42" class="l"><rect x="739.7" y="699.5" width="54" height="36"/><text x="766.7" y="722.5">8 (3.0)</text></g>
<g id="l43" class="l"><rect x="812.05" y="699.5" width="81.7" height="36"/><text x="852.9" y="722.5">10 (9.0/1.0)</text></g>
<g id="l44" class="l"><rect x="935.7" y="699.5" width="54" height="36"/><text x="962.7" y="722.5">8 (2.0)</text></g>
<g id="l45" class="l"><rect x="1008.05" y="699.5" width="60.3" height="36"/><text x="1038.2" y="722.5">7 (13.0)</text></g>
<g id="l46" class="l"><rect x="1211.15" y="699.5" width="74.7" height="36"/><text x="1248.5" y="722.5">1 (7.0/1.0)</text></g>
<g id="l47" class="l"><rect x="1448.65" y="699.5" width="60.3" height="36"/><text x="1478.8" y="722.5">10 (5.0)</text></g>
<g id="l48" class="l"><rect x="1530.6" y="699.5" width="54" height="36"/><text x="1557.6" y="722.5">3 (6.0)</text></g>
<g id="l49" class="l"><rect x="1602.8" y="699.5" width="54" height="36"/><text x="1629.8" y="722.5">5 (2.0)</text></g>
<g id="l50" class="l"><rect x="1681.6" y="699.5" width="54" height="36"/><text x="1708.6" y="722.5">2 (5.0)</text></g>
<g id="l51" class="l"><rect x="1753.85" y="699.5" width="81.7" height="36"/><text x="1794.7" y="722.5">1 (12.0/1.0)</text></g>
<g id="l52" class="l"><rect x="1999.65" y="699.5" width="74.7" height="36"/><text x="2037" y="722.5">8 (7.0/1.0)</text></g>
<g id="l53" class="l"><rect x="2728.9" y="699.5" width="54" height="36"/><text x="2755.9" y="722.5">2 (2.0)</text></g>
<g id="l54" class="l"><rect x="2910.45" y="699.5" width="74.7" height="36"/><text x="2947.8" y="722.5">5 (6.0/1.0)</text></g>
<g id="l55" class="l"><rect x="3113" y="699.5" width="54" height="36"/><text x="3140" y="722.5">3 (6.0)</text></g>
<g id="l56" class="l"><rect x="3184.85" y="699.5" width="60.3" height="36"/><text x="3215" y="722.5">5 (13.0)</text></g>
<g id="l57" class="l"><rect x="3559.55" y="699.5" width="81.7" height="36"/><text x="3600.4" y="722.5">4 (33.0/1.0)</text></g>
<g id="l58" class="l"><rect x="1353.85" y="786.5" width="81.7" height="36"/><text x="1394.7" y="809.5">9 (17.0/1.0)</text></g>
<g id="l59" class="l"><rect x="1932.8" y="786.5" width="54" height="36"/><text x="1959.8" y="809.5">1 (4.0)</text></g>
<g id="l60" class="l"><rect x="2006.85" y="786.5" width="60.3" height="36"/><text x="2037" y="809.5">10 (6.0)</text></g>
<g id="l61" class="l"><rect x="2087.9" y="786.5" width="54" height="36"/><text x="2114.9" y="809.5">5 (3.0)</text></g>
<g id="l62" class="l"><rect x="2159.7" y="786.5" width="54" height="36"/><text x="2186.7" y="809.5">4 (5.0)</text></g>
<g id="l63" class="l"><rect x="2231.45" y="786.5" width="74.7" height="36"/><text x="2268.8" y="809.5">5 (7.0/1.0)</text></g>
<g id="l64" class="l"><rect x="2323.8" y="786.5" width="54" height="36"/><text x="2350.8" y="809.5">5 (2.0)</text></g>
<g id="l65" class="l"><rect x="2395.7" y="786.5" width="54" height="36"/><text x="2422.7" y="809.5">3 (4.0)</text></g>
<g id="l66" class="l"><rect x="2577.9" y="786.5" width="54" height="36"/><text x="2604.9" y="809.5">6 (9.0)</text></g>
<g id="l67" class="l"><rect x="2649.45" y="786.5" width="60.3" height="36"/><text x="2679.6" y="809.5">4 (15.0)</text></g>
<g id="l68" class="l"><rect x="2727.55" y="786.5" width="74.7" height="36"/><text x="2764.9" y="809.5">5 (2.0/1.0)</text></g>
<g id="l69" class="l"><rect x="2820" y="786.5" width="54" height="36"/><text x="2847" y="809.5">3 (6.0)</text></g>
<g id="l70" class="l"><rect x="2895.55" y="786.5" width="60.3" height="36"/><text x="2925.7" y="809.5">10 (3.0)</text></g>
<g id="l71" class="l"><rect x="2989.55" y="786.5" width="88.7" height="36"/><text x="3033.9" y="809.5">10 (26.0/2.0)</text></g>
<g id="l72" class="l"><rect x="3095.45" y="786.5" width="74.7" height="36"/><text x="3132.8" y="809.5">5 (7.0/1.0)</text></g>
<g id="l73" class="l"><rect x="3637.7" y="786.5" width="54" height="36"/><text x="3664.7" y="809.5">5 (3.0)</text></g>
<g id="l74" class="l"><rect x="3709.05" y="786.5" width="74.7" height="36"/><text x="3746.4" y="809.5">4 (2.0/1.0)</text></g>
<g id="l75" class="l"><rect x="1224" y="873.5" width="54" height="36"/><text x="1251" y="896.5">9 (3.0)</text></g>
<g id="l76" class="l"><rect x="1302.8" y="873.5" width="54" height="36"/><text x="1329.8" y="896.5">1 (2.0)</text></g>
<g id="l77" class="l"><rect x="1878.55" y="873.5" width="60.3" height="36"/><text x="1908.7" y="896.5">2 (31.0)</text></g>
<g id="l78" class="l"><rect x="2446.7" y="873.5" width="54" height="36"/><text x="2473.7" y="896.5">6 (3.0)</text></g>
<g id="l79" class="l"><rect x="2525.2" y="873.5" width="54" height="36"/><text x="2552.2" y="896.5">4 (2.0)</text></g>
<g id="l80" class="l"><rect x="1766.9" y="960.5" width="54" height="36"/><text x="1793.9" y="983.5">1 (8.0)</text></g>
<g id="l81" class="l"><rect x="1838.7" y="960.5" width="54" height="36"/><text x="1865.7" y="983.5">2 (8.0)</text></g>
</g>
</svg>
